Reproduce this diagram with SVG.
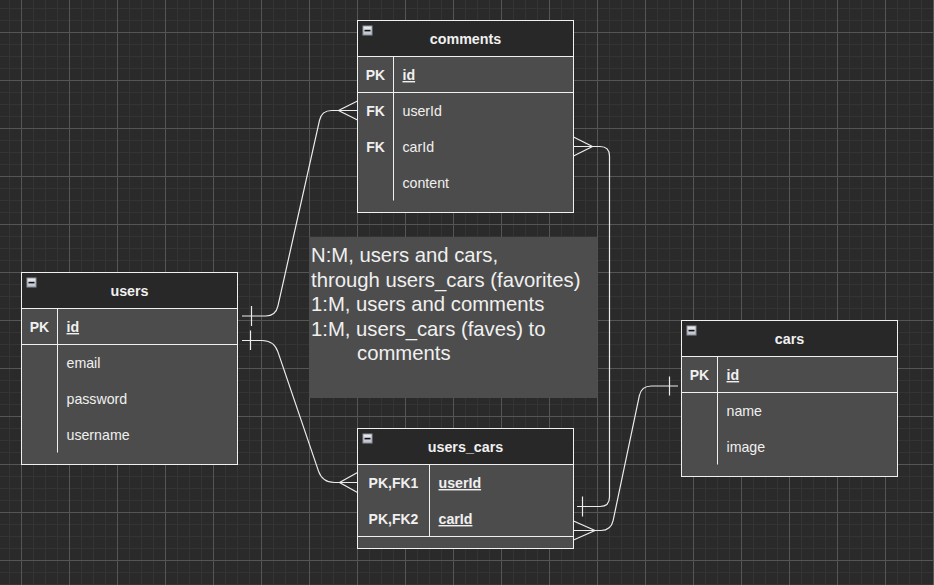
<svg xmlns="http://www.w3.org/2000/svg" width="934" height="585" viewBox="0 0 934 585">
<defs>
<pattern id="grid" x="21" y="32" width="48" height="48" patternUnits="userSpaceOnUse">
<rect width="48" height="48" fill="#2a2a2a"/>
<path d="M12.5,0V48M24.5,0V48M36.5,0V48M0,12.5H48M0,24.5H48M0,36.5H48" stroke="#343434" stroke-width="1" fill="none"/>
<path d="M0.5,0V48M0,0.5H48" stroke="#555555" stroke-width="1" fill="none"/>
</pattern>
<linearGradient id="ig" x1="0" y1="0" x2="0" y2="1">
<stop offset="0" stop-color="#eef0f3"/>
<stop offset="1" stop-color="#b9bec8"/>
</linearGradient>
<g id="icon">
<rect x="0.5" y="0.5" width="9" height="9" fill="url(#ig)" stroke="#8d94a1" stroke-width="1"/>
<rect x="2" y="4.3" width="6" height="1.6" fill="#111"/>
</g>
</defs>
<style>
.body{fill:#4c4c4c}
.head{fill:#282828}
.frame{fill:none;stroke:#f0f0f0;stroke-width:1}
.sep{stroke:#f0f0f0;stroke-width:1}
.title{font-family:"Liberation Sans",Arial,sans-serif;font-size:14.3px;font-weight:bold;fill:#f0f0f0;text-anchor:middle}
.key{font-family:"Liberation Sans",Arial,sans-serif;font-size:14px;font-weight:bold;fill:#f0f0f0;text-anchor:middle}
.fld{font-family:"Liberation Sans",Arial,sans-serif;font-size:14.2px;fill:#f0f0f0}
.pk{font-weight:bold;text-decoration:underline}
.note{font-family:"Liberation Sans",Arial,sans-serif;font-size:20.3px;fill:#f0f0f0}
.edge{fill:none;stroke:#ececec;stroke-width:1.2}
</style>
<rect width="934" height="585" fill="url(#grid)"/>

<g id="comments" transform="translate(357.5,20.5)">
<rect class="body" width="216" height="192"/>
<rect class="head" width="216" height="36"/>
<rect class="frame" width="216" height="192"/>
<line class="sep" x1="0" y1="36" x2="216" y2="36"/>
<line class="sep" x1="0" y1="72" x2="216" y2="72"/>
<line class="sep" x1="36" y1="36" x2="36" y2="180"/>
<use href="#icon" x="5" y="5"/>
<text class="title" x="108" y="23">comments</text>
<text class="key" x="18" y="59.5">PK</text>
<text class="fld pk" x="45" y="59.5">id</text>
<text class="key" x="18" y="95.5">FK</text>
<text class="fld" x="45" y="95.5">userId</text>
<text class="key" x="18" y="131.5">FK</text>
<text class="fld" x="45" y="131.5">carId</text>
<text class="fld" x="45" y="167.5">content</text>
</g>

<g id="users" transform="translate(21.5,272.5)">
<rect class="body" width="216" height="192"/>
<rect class="head" width="216" height="36"/>
<rect class="frame" width="216" height="192"/>
<line class="sep" x1="0" y1="36" x2="216" y2="36"/>
<line class="sep" x1="0" y1="72" x2="216" y2="72"/>
<line class="sep" x1="36" y1="36" x2="36" y2="180"/>
<use href="#icon" x="5" y="5"/>
<text class="title" x="108" y="23">users</text>
<text class="key" x="18" y="59.5">PK</text>
<text class="fld pk" x="45" y="59.5">id</text>
<text class="fld" x="45" y="95.5">email</text>
<text class="fld" x="45" y="131.5">password</text>
<text class="fld" x="45" y="167.5">username</text>
</g>

<g id="cars" transform="translate(681.5,320.5)">
<rect class="body" width="216" height="156"/>
<rect class="head" width="216" height="36"/>
<rect class="frame" width="216" height="156"/>
<line class="sep" x1="0" y1="36" x2="216" y2="36"/>
<line class="sep" x1="0" y1="72" x2="216" y2="72"/>
<line class="sep" x1="36" y1="36" x2="36" y2="144"/>
<use href="#icon" x="5" y="5"/>
<text class="title" x="108" y="23">cars</text>
<text class="key" x="18" y="59.5">PK</text>
<text class="fld pk" x="45" y="59.5">id</text>
<text class="fld" x="45" y="95.5">name</text>
<text class="fld" x="45" y="131.5">image</text>
</g>

<g id="users_cars" transform="translate(357.5,428.5)">
<rect class="body" width="216" height="120"/>
<rect class="head" width="216" height="36"/>
<rect class="frame" width="216" height="120"/>
<line class="sep" x1="0" y1="36" x2="216" y2="36"/>
<line class="sep" x1="0" y1="108" x2="216" y2="108"/>
<line class="sep" x1="72" y1="36" x2="72" y2="108"/>
<use href="#icon" x="5" y="5"/>
<text class="title" x="108" y="23">users_cars</text>
<text class="key" x="36" y="59.5">PK,FK1</text>
<text class="fld pk" x="81" y="59.5">userId</text>
<text class="key" x="36" y="95.5">PK,FK2</text>
<text class="fld pk" x="81" y="95.5">carId</text>
</g>

<g id="note">
<rect x="309" y="237" width="288.5" height="161" fill="#4d4d4d"/>
<text class="note" x="311" y="262">N:M, users and cars,</text>
<text class="note" x="311" y="286.5">through users_cars (favorites)</text>
<text class="note" x="311" y="311">1:M, users and comments</text>
<text class="note" x="311" y="335.5">1:M, users_cars (faves) to</text>
<text class="note" x="357" y="360">comments</text>
</g>

<g id="connectors">
<path class="edge" d="M242,316 H265.7 Q275.7,316 277.9,306.2 L319.5,120.3 Q321.7,110.5 331.7,110.5 H357.5"/>
<path class="edge" d="M251.5,306 V326"/>
<path class="edge" d="M357.5,101 L338.5,110.5 L357.5,120"/>

<path class="edge" d="M242,340.5 H262 Q274,340.5 277.9,351.9 L318.5,471.1 Q322.4,482.5 334.4,482.5 H357.5"/>
<path class="edge" d="M250.5,330.5 V350"/>
<path class="edge" d="M357.5,472.5 L339.5,482.5 L357.5,492.5"/>

<path class="edge" d="M573.5,146.5 H600 Q609.5,146.5 609.5,156 V497 Q609.5,506.5 600,506.5 H577"/>
<path class="edge" d="M573.5,137 L592.5,146.5 L573.5,156"/>
<path class="edge" d="M582.5,496.5 V516.5"/>

<path class="edge" d="M678,386 H651.4 Q641.4,386 639.3,395.8 L613.1,520.7 Q611,530.5 601,530.5 H573.5"/>
<path class="edge" d="M669.5,376.5 V395.5"/>
<path class="edge" d="M573.5,521 L595,530.5 L573.5,540"/>
</g>
</svg>
